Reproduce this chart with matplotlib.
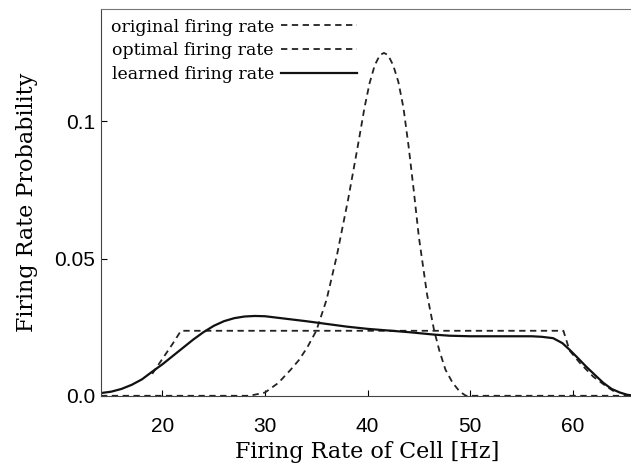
import matplotlib
matplotlib.use("Agg")
import matplotlib.pyplot as plt

# firing rate axis values [Hz] and probabilities
optimal_hz = [14, 28.5, 30, 31.3, 32.5, 33.3, 34.1, 35.0, 36.0, 37.0, 38.1, 39.0,
              39.7, 40.2, 40.7, 41.2, 41.6, 42.0, 42.5, 43.0, 43.5, 44.0, 44.5,
              45.0, 45.8, 46.5, 47.0, 47.6, 48.3, 49.0, 49.6, 66]
optimal_p = [0.0, 0.0, 0.0012, 0.0047, 0.0095, 0.013, 0.0175, 0.0237, 0.035, 0.051,
             0.0715, 0.09, 0.105, 0.114, 0.1205, 0.1242, 0.125, 0.1242, 0.1205,
             0.1145, 0.105, 0.091, 0.075, 0.058, 0.037, 0.0237, 0.0165, 0.0095,
             0.0047, 0.0015, 0.0, 0.0]

original_hz = [19.0, 20.0, 21.0, 21.8, 59.1, 59.7, 60.7, 62.0, 63.3, 64.2]
original_p = [0.008, 0.0135, 0.0190, 0.0237, 0.0237, 0.0165, 0.012, 0.007, 0.0034, 0.0012]

learned_hz = [14, 15, 16, 17, 18, 19, 20, 21, 22, 23, 24, 25, 26, 27, 28, 29, 30,
              32, 34, 35.2, 38, 40, 42, 44, 46.5, 48, 50, 54, 56, 57, 58.1, 59,
              59.7, 60.5, 61.3, 62.2, 63, 63.8, 64.6, 65.3, 66]
learned_p = [0.001, 0.0015, 0.0025, 0.004, 0.006, 0.0088, 0.0115, 0.0145, 0.0175,
             0.0205, 0.0232, 0.0255, 0.0272, 0.0283, 0.0289, 0.0291, 0.029, 0.0281,
             0.0272, 0.0266, 0.0252, 0.0244, 0.0238, 0.0232, 0.0223, 0.0219, 0.0217,
             0.0217, 0.0217, 0.0215, 0.021, 0.0192, 0.0168, 0.0138, 0.0107, 0.0075,
             0.0047, 0.0025, 0.0012, 0.0004, 0.0]

x_ticks = [20, 30, 40, 50, 60]
y_ticks = [0.0, 0.05, 0.1]
y_tick_labels = ["0.0", "0.05", "0.1"]

fig = plt.figure(figsize=(6.31, 4.74), dpi=100)
ax = fig.add_axes([0.160, 0.165, 0.845, 0.816])

dash = (0, (3.5, 2.5))
ax.plot(original_hz, original_p, color="#222222", lw=1.3, ls=dash,
        label="original firing rate")
ax.plot(optimal_hz, optimal_p, color="#222222", lw=1.3, ls=dash,
        label="optimal firing rate")
ax.plot(learned_hz, learned_p, color="#111111", lw=1.6, label="learned firing rate")

ax.set_xlim(14, 66)
ax.set_ylim(0, 0.141)
ax.set_xticks(x_ticks)
ax.set_yticks(y_ticks)
ax.set_yticklabels(y_tick_labels)
ax.tick_params(direction="in", length=4, width=0.8, labelsize=15)
ax.tick_params(axis="x", pad=15)
ax.tick_params(axis="y", pad=4)
for lbl in ax.get_xticklabels() + ax.get_yticklabels():
    lbl.set_family("Liberation Sans")

ax.spines["right"].set_visible(False)
ax.spines["top"].set_color("#777777")
ax.spines["left"].set_color("#444444")
ax.spines["bottom"].set_color("#444444")

ax.set_xlabel("Firing Rate of Cell [Hz]", family="DejaVu Serif", fontsize=16, labelpad=4)
ax.set_ylabel("Firing Rate Probability", family="DejaVu Serif", fontsize=16, labelpad=12)

leg = ax.legend(loc="upper left", frameon=False, markerfirst=False,
                prop={"family": "DejaVu Serif", "size": 12.5},
                handlelength=4.4, handletextpad=0.4, labelspacing=0.38,
                borderaxespad=0.15)

fig.savefig("out.png", dpi=100)
